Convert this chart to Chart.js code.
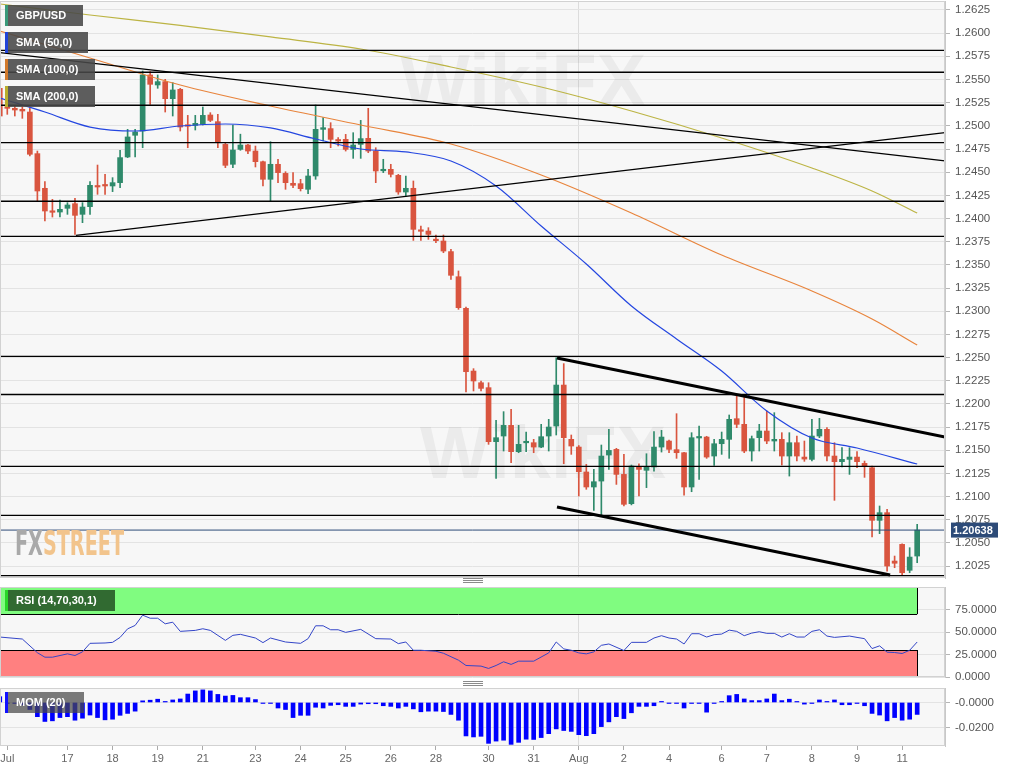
<!DOCTYPE html>
<html>
<head>
<meta charset="utf-8">
<title>GBP/USD</title>
<script src="https://cdn.jsdelivr.net/npm/chart.js@4.4.1/dist/chart.umd.min.js"></script>
<style>
  html, body { margin: 0; padding: 0; background: #ffffff; width: 1018px; height: 772px; overflow: hidden; }
  .pane { position: absolute; left: 0; width: 1018px; }
  #mainPane { top: -11px; height: 601px; }
  #rsiPane { top: 575px; height: 114px; }
  #momPane { top: 676px; height: 96px; }
</style>
</head>
<body>
<div class="pane" id="mainPane"><canvas id="mainChart"></canvas></div>
<div class="pane" id="rsiPane"><canvas id="rsiChart"></canvas></div>
<div class="pane" id="momPane"><canvas id="momChart"></canvas></div>
<script>
// 4h candles, GBP/USD, mid July -> Aug 12
const opens = [
  1.25405, 1.25203, 1.25189, 1.25178, 1.25149, 1.24700, 1.24326, 1.24081, 1.24070, 1.24110,
  1.24160, 1.24045, 1.24128, 1.24351, 1.24362, 1.24351, 1.24387, 1.24664, 1.24898, 1.24944,
  1.25549, 1.25441, 1.25477, 1.25293, 1.25394, 1.24998, 1.25005, 1.25016, 1.25117, 1.25045,
  1.24800, 1.24585, 1.24746, 1.24793, 1.24728, 1.24613, 1.24423, 1.24585, 1.24487, 1.24380,
  1.24376, 1.24315, 1.24459, 1.24962, 1.24970, 1.24845, 1.24854, 1.24746, 1.24800, 1.24865,
  1.24728, 1.24515, 1.24531, 1.24466, 1.24286, 1.24326, 1.23866, 1.23865, 1.23768, 1.23757,
  1.23643, 1.23372, 1.23031, 1.22354, 1.22228, 1.22175, 1.21592, 1.21653, 1.21768, 1.21484,
  1.21580, 1.21581, 1.21534, 1.21653, 1.21761, 1.22203, 1.21617, 1.21534, 1.21265, 1.21103,
  1.21167, 1.21448, 1.21509, 1.21239, 1.20923, 1.21322, 1.21283, 1.21319, 1.21534, 1.21599,
  1.21506, 1.21473, 1.21103, 1.21632, 1.21642, 1.21437, 1.21570, 1.21617, 1.21840, 1.21779,
  1.21491, 1.21635, 1.21707, 1.21599, 1.21617, 1.21437, 1.21581, 1.21426, 1.21401, 1.21653,
  1.21725, 1.21437, 1.21376, 1.21401, 1.21426, 1.21358, 1.21311, 1.20743, 1.20826, 1.20304,
  1.20484, 1.20204, 1.20358
];
const highs = [
  1.25420, 1.25268, 1.25214, 1.25203, 1.25196, 1.24728, 1.24398, 1.24207, 1.24200, 1.24171,
  1.24218, 1.24171, 1.24398, 1.24577, 1.24477, 1.24441, 1.24736, 1.24962, 1.24962, 1.25592,
  1.25585, 1.25549, 1.25502, 1.25466, 1.25405, 1.25113, 1.25113, 1.25203, 1.25142, 1.25124,
  1.24818, 1.25009, 1.24910, 1.24800, 1.24782, 1.24621, 1.24829, 1.24639, 1.24505, 1.24495,
  1.24423, 1.24531, 1.25225, 1.25088, 1.25034, 1.24872, 1.24908, 1.24926, 1.25059, 1.25189,
  1.24764, 1.24639, 1.24585, 1.24477, 1.24459, 1.24405, 1.23919, 1.23901, 1.23822, 1.23822,
  1.23667, 1.23434, 1.23045, 1.22380, 1.22247, 1.22228, 1.21822, 1.21916, 1.21941, 1.21768,
  1.21696, 1.21617, 1.21779, 1.21833, 1.22498, 1.22434, 1.21664, 1.21550, 1.21347, 1.21293,
  1.21556, 1.21725, 1.21520, 1.21455, 1.21340, 1.21354, 1.21462, 1.21700, 1.21714, 1.21610,
  1.21894, 1.21476, 1.21689, 1.21761, 1.21650, 1.21617, 1.21696, 1.21880, 1.22085, 1.22095,
  1.21653, 1.21779, 1.21923, 1.21905, 1.21689, 1.21689, 1.21653, 1.21599, 1.21833, 1.21844,
  1.21743, 1.21581, 1.21527, 1.21527, 1.21484, 1.21383, 1.21329, 1.20898, 1.20862, 1.20358,
  1.20491, 1.20448, 1.20700
];
const lows = [
  1.25100, 1.25124, 1.25106, 1.25081, 1.24675, 1.24189, 1.23973, 1.24016, 1.24016, 1.24045,
  1.23829, 1.23955, 1.24045, 1.24261, 1.24261, 1.24290, 1.24333, 1.24657, 1.24664, 1.24764,
  1.25232, 1.25405, 1.25149, 1.25106, 1.24944, 1.24764, 1.24955, 1.25009, 1.25045, 1.24764,
  1.24549, 1.24549, 1.24736, 1.24700, 1.24556, 1.24351, 1.24189, 1.24387, 1.24315, 1.24333,
  1.24297, 1.24268, 1.24423, 1.24836, 1.24764, 1.24782, 1.24728, 1.24649, 1.24649, 1.24710,
  1.24387, 1.24495, 1.24448, 1.24261, 1.24243, 1.23764, 1.23764, 1.23775, 1.23740, 1.23631,
  1.23344, 1.23020, 1.22128, 1.22139, 1.22139, 1.21563, 1.21196, 1.21491, 1.21365, 1.21473,
  1.21484, 1.21473, 1.21527, 1.21491, 1.21664, 1.21354, 1.21455, 1.21006, 1.21078, 1.20851,
  1.20801, 1.21293, 1.21131, 1.20898, 1.20910, 1.21006, 1.21096, 1.21275, 1.21480, 1.21473,
  1.21412, 1.21016, 1.21052, 1.21185, 1.21412, 1.21336, 1.21455, 1.21412, 1.21743, 1.21473,
  1.21383, 1.21491, 1.21570, 1.21491, 1.21340, 1.21221, 1.21383, 1.21380, 1.21383, 1.21635,
  1.21383, 1.20959, 1.21319, 1.21239, 1.21311, 1.21207, 1.20563, 1.20599, 1.20196, 1.20232,
  1.20153, 1.20178, 1.20286
];
const closes = [
  1.25106, 1.25189, 1.25171, 1.25160, 1.24693, 1.24297, 1.24081, 1.24067, 1.24099, 1.24146,
  1.24034, 1.24124, 1.24358, 1.24340, 1.24351, 1.24387, 1.24657, 1.24880, 1.24933, 1.25549,
  1.25448, 1.25477, 1.25293, 1.25387, 1.24987, 1.24996, 1.25027, 1.25113, 1.25059, 1.24818,
  1.24574, 1.24739, 1.24793, 1.24728, 1.24613, 1.24423, 1.24585, 1.24495, 1.24387, 1.24358,
  1.24322, 1.24459, 1.24962, 1.24980, 1.24854, 1.24836, 1.24746, 1.24793, 1.24862, 1.24728,
  1.24513, 1.24525, 1.24477, 1.24286, 1.24326, 1.23883, 1.23862, 1.23829, 1.23761, 1.23649,
  1.23387, 1.23038, 1.22347, 1.22247, 1.22167, 1.21592, 1.21635, 1.21768, 1.21484, 1.21563,
  1.21582, 1.21534, 1.21646, 1.21750, 1.22203, 1.21635, 1.21545, 1.21268, 1.21103, 1.21160,
  1.21437, 1.21498, 1.21239, 1.20916, 1.21329, 1.21293, 1.21319, 1.21534, 1.21642, 1.21509,
  1.21473, 1.21103, 1.21635, 1.21635, 1.21426, 1.21570, 1.21617, 1.21833, 1.21779, 1.21491,
  1.21624, 1.21707, 1.21599, 1.21617, 1.21437, 1.21581, 1.21437, 1.21404, 1.21653, 1.21725,
  1.21437, 1.21376, 1.21401, 1.21426, 1.21376, 1.21329, 1.20743, 1.20826, 1.20250, 1.20280,
  1.20178, 1.20347, 1.20638
];

// moving averages, read at a few candles
const smaIdx = [0, 12, 24, 36, 48, 60, 72, 84, 96, 108, 116, 122];
const sma200 = [1.26315, 1.26196, 1.26083, 1.25959, 1.25829, 1.25635, 1.25419, 1.25160, 1.24869, 1.24545, 1.24297, 1.24059];
const sma100 = [1.26023, 1.25732, 1.25441, 1.25214, 1.25009, 1.24804, 1.24470, 1.24060, 1.23606, 1.23218, 1.22916, 1.22635];
const sma50Idx = [0, 6, 12, 18, 24, 30, 36, 42, 48, 54, 60, 66, 72, 78, 84, 90, 96, 102, 108, 114, 122];
const sma50 = [1.25300, 1.25149, 1.24987, 1.24944, 1.24998, 1.25020, 1.24977, 1.24858, 1.24750, 1.24718,
  1.24621, 1.24351, 1.23919, 1.23509, 1.23056, 1.22700, 1.22354, 1.21923, 1.21631, 1.21524, 1.21351];

// drawn support / resistance
const levels = [1.25815, 1.25578, 1.25222, 1.24818, 1.24186, 1.23808, 1.22513, 1.22101, 1.21326, 1.20797, 1.20146];
const lastPrice = 1.20638;
// [fromIdx, fromPrice, toIdx, toPrice]
const thinTrends = [[0.03, 1.25789, 125.7, 1.24621], [10.13, 1.23819, 125.7, 1.24926]];
const channelLines = [[74.1, 1.22495, 125.7, 1.21642], [74.1, 1.20887, 118.4, 1.20153]];

const priceTicks = [1.2025, 1.2050, 1.2075, 1.2100, 1.2125, 1.2150, 1.2175, 1.2200, 1.2225, 1.2250,
  1.2275, 1.2300, 1.2325, 1.2350, 1.2375, 1.2400, 1.2425, 1.2450, 1.2475, 1.2500,
  1.2525, 1.2550, 1.2575, 1.2600, 1.2625];

// RSI (14)
const rsiIdx = [0, 3, 5, 6, 7, 9, 10, 11, 12, 14, 15, 16, 17, 18, 19, 20, 21, 22, 23, 24,
  26, 27, 28, 30, 31, 32, 34, 35, 36, 38, 40, 41, 42, 43, 44, 45, 46, 48, 50, 52,
  53, 54, 55, 56, 58, 59, 61, 62, 64, 65, 66, 67, 68, 69, 71, 73, 74, 75, 76, 77,
  78, 79, 80, 81, 83, 84, 86, 87, 88, 89, 90, 91, 92, 93, 94, 95, 96, 97, 98, 99,
  100, 101, 102, 103, 104, 105, 106, 107, 108, 109, 110, 111, 113, 114, 115, 116, 117, 118, 119, 120,
  121, 122];
const rsiVals = [44.4, 42.2, 27.0, 22.0, 22.0, 25.7, 23.9, 27.9, 37.4, 37.8, 38.5, 44.0, 53.5, 57.3, 68.7, 65.3, 65.3, 59.1, 60.9, 50.7,
  51.8, 53.6, 51.8, 40.7, 46.3, 47.4, 43.3, 38.2, 43.3, 38.9, 37.4, 42.6, 56.9, 56.9, 52.5, 52.5, 49.6, 52.9, 42.6, 42.2,
  37.1, 38.9, 29.7, 29.7, 28.6, 26.4, 18.7, 12.8, 12.1, 9.5, 12.8, 16.9, 14.0, 17.6, 17.6, 26.8, 38.9, 31.2, 29.7, 26.8,
  25.7, 27.9, 35.2, 36.7, 29.4, 38.5, 38.5, 43.3, 45.9, 43.3, 42.2, 36.7, 48.1, 48.1, 44.4, 47.0, 47.7, 52.1, 50.7, 45.9,
  48.8, 50.3, 48.5, 48.5, 44.4, 48.1, 44.4, 44.4, 50.7, 52.5, 45.5, 44.0, 45.5, 44.0, 42.6, 31.6, 34.6, 27.6, 27.2, 26.1,
  29.7, 38.9];
const rsiUpperBand = [70, 100];
const rsiLowerBand = [0, 30];
const rsiTicks = [0, 25, 50, 75];

// Momentum (20)
const mom = [
  0.0046, -0.0004, -0.0004, -0.0020, -0.0056, -0.0113, -0.0151, -0.0146, -0.0120, -0.0113,
  -0.0141, -0.0125, -0.0100, -0.0120, -0.0138, -0.0133, -0.0102, -0.0087, -0.0069, 0.0013,
  0.0018, 0.0026, 0.0008, 0.0020, 0.0028, 0.0067, 0.0092, 0.0100, 0.0092, 0.0064,
  0.0051, 0.0056, 0.0038, 0.0038, 0.0023, -0.0003, -0.0005, -0.0044, -0.0056, -0.0120,
  -0.0102, -0.0102, -0.0038, -0.0044, -0.0023, -0.0018, -0.0031, -0.0031, -0.0013, -0.0010,
  -0.0010, -0.0026, -0.0031, -0.0044, -0.0031, -0.0051, -0.0074, -0.0069, -0.0069, -0.0072,
  -0.0095, -0.0141, -0.0266, -0.0274, -0.0269, -0.0325, -0.0307, -0.0300, -0.0333, -0.0317,
  -0.0292, -0.0294, -0.0279, -0.0248, -0.0210, -0.0223, -0.0230, -0.0256, -0.0264, -0.0248,
  -0.0192, -0.0154, -0.0113, -0.0128, -0.0082, -0.0031, -0.0031, -0.0026, 0.0008, -0.0005,
  -0.0003, -0.0044, -0.0008, -0.0008, -0.0077, -0.0008, 0.0003, 0.0054, 0.0064, 0.0028,
  0.0015, 0.0015, 0.0028, 0.0067, 0.0015, 0.0026, 0.0003, -0.0013, -0.0005, 0.0020,
  0.0002, 0.0020, -0.0018, -0.0018, -0.0008, -0.0026, -0.0087, -0.0100, -0.0146, -0.0120,
  -0.0141, -0.0133, -0.0095
];
const momTicks = [-0.02, 0];

// time axis
const xLabelIdx = [1, 9, 15, 21, 27, 34, 40, 46, 52, 58, 65, 71, 77, 83, 89, 96, 102, 108, 114, 120];
const xLabelText = ['Jul', '17', '18', '19', '21', '23', '24', '25', '26', '28', '30', '31', 'Aug', '2', '4', '6', '7', '8', '9', '11'];
const AUG_IDX = 77;

const X_MIN = 0.03, X_MAX = 125.7;
const AXIS_W = 73;
const FONT = '"Liberation Sans", Arial, sans-serif';
const UP = '#2f8a6b', DOWN = '#d9553f';
const GRID = '#e3e3e3';
const PANEL_BG = '#f7f7f7';
// every canvas reserves 12px above its plot area (y-axis label overflow)
const PAD = 12;

const candleColors = opens.map((o, i) => closes[i] >= o ? UP : DOWN);

function rightAxis(min, max, ticks, fmt) {
  return {
    type: 'linear', position: 'right', min: min, max: max,
    afterBuildTicks: s => { s.ticks = ticks.map(v => ({ value: v })); },
    afterFit: s => { s.width = AXIS_W; },
    grid: { color: GRID, tickColor: '#b5b5b5', tickLength: 5 },
    border: { color: '#c8c8c8' },
    ticks: { color: '#555', font: { family: FONT, size: 11.5 }, padding: 5, autoSkip: false, callback: fmt }
  };
}

function timeAxis(marks) {
  return {
    type: 'linear', min: X_MIN, max: X_MAX, offset: false,
    afterBuildTicks: s => { s.ticks = (marks ? xLabelIdx : [AUG_IDX]).map(v => ({ value: v })); },
    grid: {
      offset: false, drawTicks: marks, tickLength: marks ? 4 : 0, tickColor: '#aaa',
      color: c => (c.tick && c.tick.value === AUG_IDX) ? '#dcdcdc' : 'rgba(0,0,0,0)'
    },
    border: { display: false },
    ticks: { display: false }
  };
}

const panelPlugin = {
  id: 'panel',
  beforeDraw(chart) {
    const a = chart.chartArea, ctx = chart.ctx;
    ctx.save();
    ctx.fillStyle = PANEL_BG;
    ctx.fillRect(a.left, a.top, a.right - a.left, a.bottom - a.top);
    ctx.restore();
  },
  afterDraw(chart) {
    const a = chart.chartArea, ctx = chart.ctx;
    ctx.save();
    ctx.strokeStyle = '#d2d2d2';
    ctx.lineWidth = 1;
    ctx.strokeRect(a.left + 0.5, a.top + 0.5, a.right - a.left - 1, a.bottom - a.top - 1);
    ctx.restore();
  }
};

function tag(ctx, x, y, w, h, fill, stripe, text) {
  ctx.fillStyle = fill;
  ctx.fillRect(x, y, w, h);
  ctx.fillStyle = stripe;
  ctx.fillRect(x, y, 3, h);
  ctx.fillStyle = '#ffffff';
  ctx.font = 'bold 11px ' + FONT;
  ctx.textAlign = 'left';
  ctx.textBaseline = 'middle';
  ctx.fillText(text, x + 11, y + h / 2 + 0.5);
}

function handle(ctx, y) {
  ctx.strokeStyle = '#8a8a8a';
  ctx.lineWidth = 1;
  for (let k = 0; k < 3; k++) {
    ctx.beginPath();
    ctx.moveTo(463, y + k * 2 + 0.5);
    ctx.lineTo(483, y + k * 2 + 0.5);
    ctx.stroke();
  }
}

// main canvas starts 11px above the page, so page y = canvas y - 11
const MT = 11;

const mainDecor = {
  id: 'mainDecor',
  beforeDatasetsDraw(chart) {
    const ctx = chart.ctx;
    ctx.save();
    ctx.fillStyle = 'rgba(90,90,90,0.07)';
    ctx.font = 'bold 74px ' + FONT;
    ctx.textBaseline = 'alphabetic';
    ctx.fillText('WikiFX', 400, 106 + MT);
    ctx.fillText('WikiFX', 420, 478 + MT);
    ctx.restore();
  },
  afterDraw(chart) {
    const ctx = chart.ctx;
    ctx.save();
    tag(ctx, 5, 5 + MT, 78, 21, 'rgba(72,72,72,0.88)', '#3a9a7a', 'GBP/USD');
    tag(ctx, 5, 32 + MT, 83, 21, 'rgba(72,72,72,0.88)', '#2244d8', 'SMA (50,0)');
    tag(ctx, 5, 59 + MT, 90, 21, 'rgba(72,72,72,0.88)', '#d27a2c', 'SMA (100,0)');
    tag(ctx, 5, 86 + MT, 90, 21, 'rgba(72,72,72,0.88)', '#b8ae2c', 'SMA (200,0)');

    // FXSTREET logo
    ctx.font = 'bold 34px "Liberation Sans Narrow", "DejaVu Sans Condensed", ' + FONT;
    ctx.textBaseline = 'alphabetic';
    ctx.textAlign = 'left';
    const wFx = ctx.measureText('FX').width, wSt = ctx.measureText('STREET').width;
    const sx = 109 / (wFx + wSt);
    ctx.save();
    ctx.translate(15, 555 + MT);
    ctx.scale(sx, 1);
    ctx.fillStyle = '#a9a9a9';
    ctx.fillText('FX', 0, 0);
    ctx.fillStyle = '#f2c48c';
    ctx.fillText('STREET', wFx, 0);
    ctx.restore();

    // last price tag on the axis
    const y = chart.scales.y.getPixelForValue(lastPrice);
    ctx.fillStyle = '#2d4b78';
    ctx.fillRect(951, y - 7.5, 47, 15);
    ctx.fillStyle = '#ffffff';
    ctx.font = 'bold 11px ' + FONT;
    ctx.textBaseline = 'middle';
    ctx.fillText(lastPrice.toFixed(5), 953, y + 0.5);

    handle(ctx, 578 + MT);
    ctx.restore();
  }
};

const lineBase = { type: 'line', pointRadius: 0, borderColor: '#000', fill: false, tension: 0 };

const mainDatasets = [];
levels.forEach(v => mainDatasets.push(Object.assign({}, lineBase, {
  data: [{ x: X_MIN, y: v }, { x: X_MAX, y: v }], borderWidth: 1.3, order: 1
})));
thinTrends.forEach(t => mainDatasets.push(Object.assign({}, lineBase, {
  data: [{ x: t[0], y: t[1] }, { x: t[2], y: t[3] }], borderWidth: 1.3, order: 1
})));
channelLines.forEach(t => mainDatasets.push(Object.assign({}, lineBase, {
  data: [{ x: t[0], y: t[1] }, { x: t[2], y: t[3] }], borderWidth: 3, order: 1
})));
mainDatasets.push(Object.assign({}, lineBase, {
  data: [{ x: X_MIN, y: lastPrice }, { x: X_MAX, y: lastPrice }], borderColor: '#2d4b78', borderWidth: 1, order: 2
}));
mainDatasets.push(Object.assign({}, lineBase, {
  data: sma50Idx.map((x, i) => ({ x: x, y: sma50[i] })), borderColor: '#2446e0', borderWidth: 1.2,
  cubicInterpolationMode: 'monotone', order: 3
}));
mainDatasets.push(Object.assign({}, lineBase, {
  data: smaIdx.map((x, i) => ({ x: x, y: sma100[i] })), borderColor: '#e8843c', borderWidth: 1.2,
  cubicInterpolationMode: 'monotone', order: 3
}));
mainDatasets.push(Object.assign({}, lineBase, {
  data: smaIdx.map((x, i) => ({ x: x, y: sma200[i] })), borderColor: '#bcb444', borderWidth: 1.2,
  cubicInterpolationMode: 'monotone', order: 3
}));
mainDatasets.push({
  type: 'bar', grouped: false, barThickness: 5, minBarLength: 1.5, order: 4,
  data: opens.map((o, i) => ({ x: i, y: [Math.min(o, closes[i]), Math.max(o, closes[i])] })),
  backgroundColor: candleColors, borderWidth: 0
});
mainDatasets.push({
  type: 'bar', grouped: false, barThickness: 1, order: 5,
  data: lows.map((l, i) => ({ x: i, y: [l, highs[i]] })),
  backgroundColor: candleColors, borderWidth: 0
});

const common = {
  animation: false, responsive: true, maintainAspectRatio: false, events: [],
  plugins: { legend: { display: false }, tooltip: { enabled: false } }
};

new Chart(document.getElementById('mainChart'), {
  type: 'bar',
  data: { datasets: mainDatasets },
  options: Object.assign({}, common, {
    layout: { padding: { top: PAD, bottom: PAD, left: 0, right: 0 } },
    scales: {
      x: timeAxis(false),
      y: rightAxis(1.20121, 1.26347, priceTicks, v => v.toFixed(4))
    }
  }),
  plugins: [panelPlugin, mainDecor]
});

const rsiDecor = {
  id: 'rsiDecor',
  beforeDatasetsDraw(chart) {
    const { ctx, scales: { x, y } } = chart;
    const x0 = x.getPixelForValue(X_MIN), x1 = x.getPixelForValue(opens.length - 1);
    ctx.save();
    [[rsiUpperBand, 'rgb(128,252,128)', rsiUpperBand[0]], [rsiLowerBand, 'rgb(255,128,128)', rsiLowerBand[1]]].forEach(b => {
      const yA = y.getPixelForValue(b[0][1]), yB = y.getPixelForValue(b[0][0]);
      ctx.fillStyle = b[1];
      ctx.fillRect(x0, yA, x1 - x0, yB - yA);
      const yl = Math.round(y.getPixelForValue(b[2])) + 0.5;
      ctx.strokeStyle = '#000';
      ctx.lineWidth = 1;
      ctx.beginPath();
      ctx.moveTo(x0, yl); ctx.lineTo(x1, yl);
      ctx.moveTo(Math.round(x1) + 0.5, yA); ctx.lineTo(Math.round(x1) + 0.5, yB);
      ctx.stroke();
    });
    ctx.restore();
  },
  afterDraw(chart) {
    const ctx = chart.ctx;
    ctx.save();
    tag(ctx, 5, 3 + PAD, 110, 21, 'rgba(40,90,40,0.9)', '#2ad52a', 'RSI (14,70,30,1)');
    ctx.restore();
  }
};

new Chart(document.getElementById('rsiChart'), {
  type: 'line',
  data: {
    datasets: [{
      data: rsiIdx.map((x, i) => ({ x: x, y: rsiVals[i] })),
      borderColor: '#3446c8', borderWidth: 1, pointRadius: 0, fill: false, tension: 0
    }]
  },
  options: Object.assign({}, common, {
    layout: { padding: { top: PAD, bottom: PAD, left: 0, right: 0 } },
    scales: {
      x: timeAxis(false),
      y: rightAxis(0, 100, rsiTicks, v => v.toFixed(4))
    }
  }),
  plugins: [panelPlugin, rsiDecor]
});

const momDecor = {
  id: 'momDecor',
  afterDraw(chart) {
    const { ctx, chartArea, scales: { x } } = chart;
    ctx.save();
    tag(ctx, 5, 4 + PAD, 79, 21, 'rgba(72,72,72,0.72)', '#1010ff', 'MOM (20)');
    handle(ctx, PAD - 7);
    ctx.fillStyle = '#666';
    ctx.font = '11px ' + FONT;
    ctx.textAlign = 'center';
    ctx.textBaseline = 'middle';
    xLabelIdx.forEach((v, i) => ctx.fillText(xLabelText[i], x.getPixelForValue(v), chartArea.bottom + 13));
    ctx.restore();
  }
};

new Chart(document.getElementById('momChart'), {
  type: 'bar',
  data: {
    datasets: [{
      data: mom.map((v, i) => ({ x: i, y: v })),
      backgroundColor: '#0000ff', borderWidth: 0, barThickness: 4, minBarLength: 1, grouped: false
    }]
  },
  options: Object.assign({}, common, {
    layout: { padding: { top: PAD, bottom: 22, left: 0, right: 0 } },
    scales: {
      x: timeAxis(true),
      y: rightAxis(-0.0346, 0.0115, momTicks, v => (v === 0 ? '-0.0000' : v.toFixed(4)))
    }
  }),
  plugins: [panelPlugin, momDecor]
});
</script>
</body>
</html>
